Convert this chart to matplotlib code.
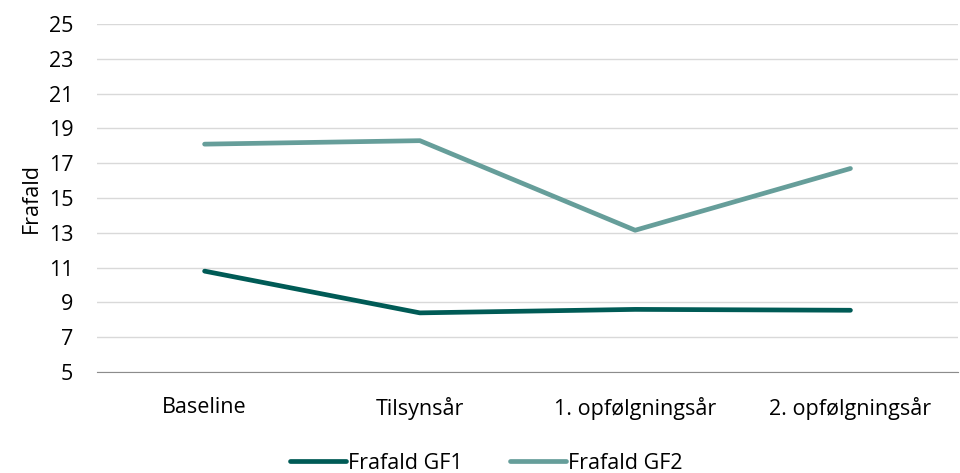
import matplotlib.pyplot as plt

plt.rcParams['font.family'] = ['Open Sans', 'DejaVu Sans']

categories = ['Baseline', 'Tilsynsår', '1. opfølgningsår', '2. opfølgningsår']
gf1 = [10.8, 8.4, 8.6, 8.55]
gf2 = [18.1, 18.3, 13.15, 16.7]
yticks = list(range(5, 26, 2))

fig = plt.figure(figsize=(9.6, 4.73), dpi=100)
ax = fig.add_axes([0.101, 0.2135, 0.897, 0.7355])

x = range(len(categories))
ax.plot(x, gf1, color='#005B56', lw=3.4, solid_capstyle='round', label='Frafald GF1')
ax.plot(x, gf2, color='#669E9A', lw=3.4, solid_capstyle='round', label='Frafald GF2')

fs = 15.5
ax.set_xlim(-0.5, 3.5)
ax.set_ylim(5, 25)
ax.set_yticks(yticks)
ax.set_xticks(list(x))
ax.set_xticklabels(categories)
ax.tick_params(axis='both', length=0, labelsize=fs, colors='#000000')
ax.tick_params(axis='x', pad=18)
ax.tick_params(axis='y', pad=17)
ax.grid(axis='y', color='#D9D9D9', lw=1)
ax.set_axisbelow(True)
for s in ['top', 'right', 'left']:
    ax.spines[s].set_visible(False)
ax.spines['bottom'].set_color('#8C8C8C')
ax.set_ylabel('Frafald', fontsize=fs, labelpad=5)

ax.legend(loc='center', bbox_to_anchor=(0.452, -0.262), ncol=2, frameon=False,
          fontsize=fs, handlelength=2.6, handletextpad=0.08, columnspacing=2.2)

fig.savefig('out.png', dpi=100)
